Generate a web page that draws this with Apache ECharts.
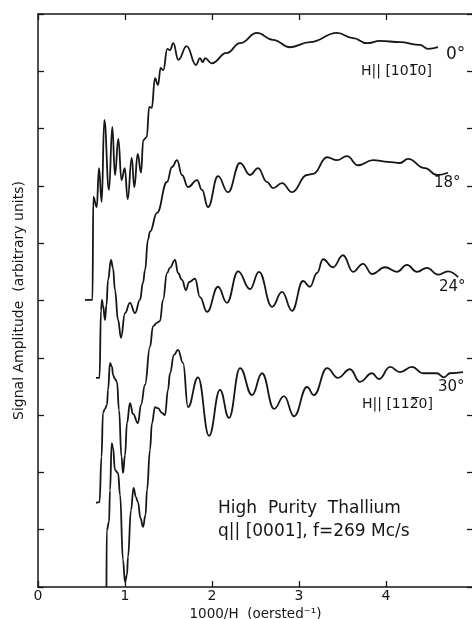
<!DOCTYPE html>
<html>
<head>
<meta charset="utf-8">
<script src="https://cdn.jsdelivr.net/npm/echarts@6/dist/echarts.min.js"></script>
<style>
  html, body { margin: 0; padding: 0; background: #fff; }
  #chart { width: 472px; height: 619px; }
</style>
</head>
<body>
<div id="chart"></div>
<script>
// x = 1000/H (oersted^-1), y = signal amplitude (arbitrary units, 0..10)
const xTicks = [0, 1, 2, 3, 4]

// H || [10-10], 0 deg
const trace0 = [
  [0.540, 5.01], [0.626, 5.01], [0.636, 6.81], [0.675, 6.63], [0.701, 7.31], [0.732, 6.72],
  [0.762, 8.15], [0.816, 6.93], [0.854, 8.03], [0.885, 7.19], [0.923, 7.82], [0.960, 7.10],
  [0.997, 7.31], [1.031, 6.77], [1.077, 7.49], [1.107, 6.98], [1.146, 7.56], [1.184, 7.23],
  [1.210, 7.80], [1.249, 7.85], [1.279, 8.38], [1.307, 8.36], [1.345, 8.88], [1.379, 8.76],
  [1.410, 9.06], [1.440, 9.02], [1.486, 9.39], [1.517, 9.37], [1.555, 9.49], [1.613, 9.20],
  [1.709, 9.44], [1.816, 9.11], [1.862, 9.23], [1.893, 9.16], [1.920, 9.23], [1.997, 9.14],
  [2.169, 9.32], [2.322, 9.49], [2.517, 9.67], [2.701, 9.55], [2.897, 9.42], [3.126, 9.51],
  [3.437, 9.67], [3.621, 9.58], [3.782, 9.49], [3.931, 9.53], [4.161, 9.51], [4.391, 9.46],
  [4.483, 9.39], [4.598, 9.42]
]

// 18 deg
const trace18 = [
  [0.667, 3.65], [0.707, 3.65], [0.724, 4.83], [0.736, 5.01], [0.747, 4.92], [0.770, 4.66],
  [0.787, 4.92], [0.805, 5.36], [0.839, 5.71], [0.862, 5.57], [0.885, 5.18], [0.920, 4.66],
  [0.954, 4.35], [1.000, 4.78], [1.057, 4.96], [1.115, 4.78], [1.172, 5.01], [1.207, 5.31],
  [1.230, 5.53], [1.264, 6.06], [1.287, 6.20], [1.368, 6.53], [1.483, 7.07], [1.540, 7.33],
  [1.598, 7.45], [1.655, 7.19], [1.724, 6.98], [1.828, 7.10], [1.885, 6.93], [1.954, 6.63],
  [2.069, 7.17], [2.184, 6.89], [2.322, 7.40], [2.437, 7.19], [2.529, 7.31], [2.632, 7.07],
  [2.701, 6.96], [2.805, 7.05], [2.920, 6.89], [3.092, 7.19], [3.161, 7.21], [3.322, 7.50],
  [3.437, 7.45], [3.552, 7.52], [3.678, 7.36], [3.851, 7.45], [4.023, 7.42], [4.161, 7.40],
  [4.253, 7.47], [4.448, 7.31], [4.586, 7.19], [4.713, 7.23]
]

// 24 deg
const trace24 = [
  [0.667, 1.47], [0.707, 1.48], [0.730, 2.27], [0.747, 3.04], [0.770, 3.11], [0.793, 3.18],
  [0.805, 3.44], [0.828, 3.91], [0.851, 3.84], [0.862, 3.70], [0.885, 3.63], [0.908, 3.58],
  [0.931, 3.09], [0.960, 2.27], [0.977, 1.99], [1.000, 2.30], [1.023, 2.86], [1.057, 3.21],
  [1.092, 3.02], [1.149, 2.86], [1.184, 3.18], [1.230, 3.53], [1.287, 4.19], [1.322, 4.55],
  [1.368, 4.61], [1.402, 4.64], [1.437, 5.01], [1.483, 5.48], [1.517, 5.57], [1.575, 5.71],
  [1.609, 5.48], [1.655, 5.36], [1.701, 5.18], [1.736, 5.32], [1.805, 5.38], [1.862, 5.06],
  [1.943, 4.80], [2.069, 5.24], [2.172, 4.96], [2.299, 5.51], [2.437, 5.20], [2.540, 5.50],
  [2.690, 4.89], [2.805, 5.15], [2.920, 4.82], [3.046, 5.34], [3.126, 5.24], [3.207, 5.48],
  [3.276, 5.72], [3.391, 5.58], [3.506, 5.79], [3.621, 5.50], [3.736, 5.64], [3.839, 5.46],
  [3.989, 5.58], [4.126, 5.50], [4.241, 5.62], [4.356, 5.50], [4.471, 5.57], [4.598, 5.45],
  [4.713, 5.51], [4.828, 5.41]
]

// H || [11-20], 30 deg
const trace30 = [
  [0.787, 0.00], [0.790, 0.99], [0.816, 1.13], [0.828, 1.69], [0.847, 2.51], [0.862, 2.43],
  [0.885, 2.04], [0.920, 1.99], [0.943, 1.61], [0.977, 0.47], [1.000, 0.09], [1.023, 0.21],
  [1.034, 0.52], [1.069, 1.34], [1.098, 1.73], [1.126, 1.57], [1.149, 1.48], [1.178, 1.20],
  [1.207, 1.05], [1.236, 1.26], [1.253, 1.69], [1.287, 2.39], [1.310, 2.86], [1.345, 3.14],
  [1.379, 3.12], [1.425, 3.04], [1.460, 3.00], [1.494, 3.44], [1.517, 3.73], [1.563, 4.05],
  [1.609, 4.14], [1.667, 3.91], [1.724, 3.14], [1.839, 3.66], [1.966, 2.64], [2.092, 3.44],
  [2.195, 2.95], [2.322, 3.82], [2.460, 3.35], [2.575, 3.73], [2.713, 3.11], [2.828, 3.33],
  [2.943, 2.98], [3.092, 3.49], [3.172, 3.35], [3.322, 3.82], [3.448, 3.65], [3.586, 3.80],
  [3.701, 3.58], [3.839, 3.73], [3.920, 3.63], [4.046, 3.84], [4.161, 3.75], [4.299, 3.84],
  [4.425, 3.73], [4.586, 3.73], [4.667, 3.66], [4.736, 3.73], [4.885, 3.75]
]

const ink = '#161616'
const font = 'DejaVu Sans'

const myChart = echarts.init(document.getElementById('chart'), null, { renderer: 'canvas' })

function trace(data) {
    return {
        type: 'line',
        data: data,
        showSymbol: false,
        smooth: 0.45,
        smoothMonotone: 'x',
        lineStyle: { color: ink, width: 1.8 },
        silent: true
    }
}

function label(text, left, top, size) {
    return {
        type: 'text',
        left: left,
        top: top,
        style: { text: text, fill: ink, fontSize: size, fontFamily: font }
    }
}

// ticks point into the frame on all four sides
const tickStyle = { inside: true, length: 6, lineStyle: { color: ink, width: 1.3 } }
const lineStyle = { onZero: false, lineStyle: { color: ink, width: 1.5 } }

myChart.setOption({
    animation: false,
    grid: { left: 38, top: 14, width: 435, height: 573, outerBoundsMode: 'none', containLabel: false },
    xAxis: [{
        type: 'value',
        position: 'bottom',
        min: 0,
        max: 5,
        interval: 1,
        name: '1000/H  (oersted⁻¹)',
        nameLocation: 'middle',
        nameGap: 14,
        nameTextStyle: { color: ink, fontSize: 13.5, fontFamily: font },
        axisLine: lineStyle,
        axisTick: tickStyle,
        axisLabel: {
            color: ink, fontSize: 14, fontFamily: font, margin: 2,
            formatter: v => xTicks.indexOf(v) >= 0 ? String(v) : ''
        },
        splitLine: { show: false }
    }, {
        type: 'value',
        position: 'top',
        min: 0,
        max: 5,
        interval: 1,
        axisLine: lineStyle,
        axisTick: tickStyle,
        axisLabel: { show: false },
        splitLine: { show: false }
    }],
    yAxis: [{
        type: 'value',
        position: 'left',
        min: 0,
        max: 10,
        interval: 1,
        name: 'Signal Amplitude  (arbitrary units)',
        nameLocation: 'middle',
        nameGap: 12,
        nameRotate: 90,
        nameTextStyle: { color: ink, fontSize: 14, fontFamily: font },
        axisLine: lineStyle,
        axisTick: tickStyle,
        axisLabel: { show: false },
        splitLine: { show: false }
    }, {
        type: 'value',
        position: 'right',
        min: 0,
        max: 10,
        interval: 1,
        axisLine: { show: false, onZero: false },
        axisTick: tickStyle,
        axisLabel: { show: false },
        splitLine: { show: false }
    }],
    series: [trace(trace0), trace(trace18), trace(trace24), trace(trace30)],
    graphic: [
        label('0°', 446, 46, 17),
        label('H|| [101\u03050]', 361, 64, 14),
        label('18°', 434, 176, 15),
        label('24°', 439, 280, 15),
        label('30°', 438, 380, 15),
        label('H|| [112\u03050]', 362, 397, 14),
        label('High  Purity  Thallium', 218, 500, 17),
        label('q|| [0001], f=269 Mc/s', 218, 523, 17)
    ]
})
</script>
</body>
</html>
